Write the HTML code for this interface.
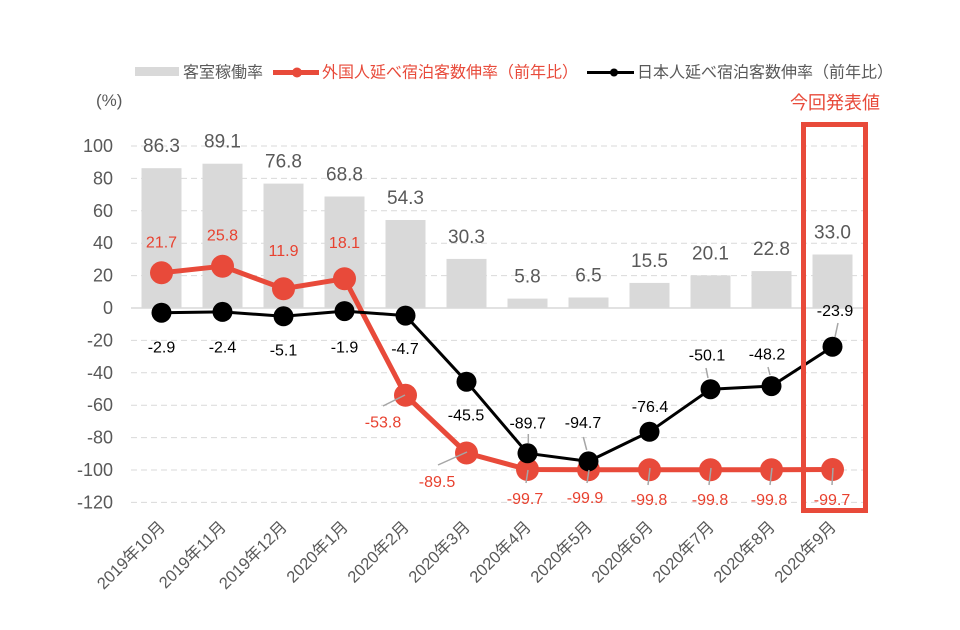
<!DOCTYPE html>
<html><head><meta charset="utf-8"><style>
html,body{margin:0;padding:0;background:#fff;}
svg{display:block;font-family:"Liberation Sans","Noto Sans CJK JP",sans-serif;}
</style></head><body>
<svg width="960" height="630" viewBox="0 0 960 630" xmlns="http://www.w3.org/2000/svg">
<rect width="960" height="630" fill="#fff"/>
<!-- legend -->
<rect x="135" y="67" width="44" height="9" fill="#d9d9d9"/>
<text x="183" y="77.5" font-size="16" fill="#595959">客室稼働率</text>
<line x1="273" y1="72.5" x2="319" y2="72.5" stroke="#e84a3a" stroke-width="5"/>
<circle cx="297" cy="72.5" r="5" fill="#e84a3a"/>
<text x="322" y="77.5" font-size="16" fill="#e84a3a">外国人延べ宿泊客数伸率（前年比）</text>
<line x1="587" y1="72.5" x2="634" y2="72.5" stroke="#000" stroke-width="3"/>
<circle cx="614" cy="72.5" r="4" fill="#000"/>
<text x="637" y="77.5" font-size="16" fill="#595959">日本人延べ宿泊客数伸率（前年比）</text>
<text x="96" y="106" font-size="17" fill="#595959">(%)</text>
<text x="835" y="109" font-size="18" fill="#e84a3a" text-anchor="middle">今回発表値</text>
<!-- gridlines -->
<g stroke="#d9d9d9" stroke-width="1" stroke-dasharray="6,4">
<line x1="131" y1="146" x2="863" y2="146"/>
<line x1="131" y1="178.4" x2="863" y2="178.4"/>
<line x1="131" y1="210.8" x2="863" y2="210.8"/>
<line x1="131" y1="243.2" x2="863" y2="243.2"/>
<line x1="131" y1="275.6" x2="863" y2="275.6"/>
<line x1="131" y1="340.4" x2="863" y2="340.4"/>
<line x1="131" y1="372.8" x2="863" y2="372.8"/>
<line x1="131" y1="405.2" x2="863" y2="405.2"/>
<line x1="131" y1="437.6" x2="863" y2="437.6"/>
<line x1="131" y1="470" x2="863" y2="470"/>
<line x1="131" y1="502.4" x2="863" y2="502.4"/>
</g>
<!-- y tick labels -->
<g font-size="18" fill="#595959" text-anchor="end">
<text x="113" y="152">100</text>
<text x="113" y="184.4">80</text>
<text x="113" y="216.8">60</text>
<text x="113" y="249.2">40</text>
<text x="113" y="281.6">20</text>
<text x="113" y="314">0</text>
<text x="113" y="346.4">-20</text>
<text x="113" y="378.8">-40</text>
<text x="113" y="411.2">-60</text>
<text x="113" y="443.6">-80</text>
<text x="113" y="476">-100</text>
<text x="113" y="508.4">-120</text>
</g>
<!-- bars -->
<g fill="#d9d9d9">
<rect x="141.5" y="168.2" width="40" height="139.8"/>
<rect x="202.5" y="163.7" width="40" height="144.3"/>
<rect x="263.5" y="183.6" width="40" height="124.4"/>
<rect x="324.5" y="196.5" width="40" height="111.5"/>
<rect x="385.5" y="220.0" width="40" height="88.0"/>
<rect x="446.5" y="258.9" width="40" height="49.1"/>
<rect x="507.5" y="298.6" width="40" height="9.4"/>
<rect x="568.5" y="297.5" width="40" height="10.5"/>
<rect x="629.5" y="282.9" width="40" height="25.1"/>
<rect x="690.5" y="275.4" width="40" height="32.6"/>
<rect x="751.5" y="271.1" width="40" height="36.9"/>
<rect x="812.5" y="254.5" width="40" height="53.5"/>
</g>
<line x1="131" y1="308" x2="863" y2="308" stroke="#d9d9d9" stroke-width="1.5"/>
<!-- bar labels -->
<g font-size="19" fill="#595959" text-anchor="middle">
<text x="161.5" y="152">86.3</text>
<text x="222.5" y="147.7">89.1</text>
<text x="283.5" y="167.6">76.8</text>
<text x="344.5" y="180.5">68.8</text>
<text x="405.5" y="204">54.3</text>
<text x="466.5" y="242.9">30.3</text>
<text x="527.5" y="282.6">5.8</text>
<text x="588.5" y="281.5">6.5</text>
<text x="649.5" y="266.9">15.5</text>
<text x="710.5" y="259.4">20.1</text>
<text x="771.5" y="255.1">22.8</text>
<text x="832.5" y="238.5">33.0</text>
</g>
<!-- red series -->
<polyline fill="none" stroke="#e84a3a" stroke-width="5" stroke-linejoin="round"
points="161.5,272.8 222.5,266.2 283.5,288.7 344.5,278.7 405.5,395.2 466.5,453.0 527.5,469.5 588.5,469.8 649.5,469.7 710.5,469.7 771.5,469.7 832.5,469.5"/>
<g fill="#e84a3a">
<circle cx="161.5" cy="272.8" r="11.5"/>
<circle cx="222.5" cy="266.2" r="11.5"/>
<circle cx="283.5" cy="288.7" r="11.5"/>
<circle cx="344.5" cy="278.7" r="11.5"/>
<circle cx="405.5" cy="395.2" r="11.5"/>
<circle cx="466.5" cy="453.0" r="11.5"/>
<circle cx="527.5" cy="469.5" r="11.5"/>
<circle cx="588.5" cy="469.8" r="11.5"/>
<circle cx="649.5" cy="469.7" r="11.5"/>
<circle cx="710.5" cy="469.7" r="11.5"/>
<circle cx="771.5" cy="469.7" r="11.5"/>
<circle cx="832.5" cy="469.5" r="11.5"/>
</g>
<!-- black series -->
<polyline fill="none" stroke="#000" stroke-width="3" stroke-linejoin="round"
points="161.5,312.7 222.5,311.9 283.5,316.3 344.5,311.1 405.5,315.6 466.5,381.7 527.5,453.3 588.5,461.4 649.5,431.8 710.5,389.2 771.5,386.1 832.5,346.7"/>
<g fill="#000">
<circle cx="161.5" cy="312.7" r="10"/>
<circle cx="222.5" cy="311.9" r="10"/>
<circle cx="283.5" cy="316.3" r="10"/>
<circle cx="344.5" cy="311.1" r="10"/>
<circle cx="405.5" cy="315.6" r="10"/>
<circle cx="466.5" cy="381.7" r="10"/>
<circle cx="527.5" cy="453.3" r="10"/>
<circle cx="588.5" cy="461.4" r="10"/>
<circle cx="649.5" cy="431.8" r="10"/>
<circle cx="710.5" cy="389.2" r="10"/>
<circle cx="771.5" cy="386.1" r="10"/>
<circle cx="832.5" cy="346.7" r="10"/>
</g>
<!-- leader lines -->
<g stroke="#a6a6a6" stroke-width="1.5">
<line x1="383" y1="406" x2="405" y2="395"/>
<line x1="438" y1="465" x2="467" y2="452"/>
<line x1="526" y1="483" x2="528" y2="470"/>
<line x1="587" y1="483" x2="589" y2="470"/>
<line x1="648" y1="485" x2="650" y2="468"/>
<line x1="709" y1="485" x2="711" y2="468"/>
<line x1="770" y1="485" x2="772" y2="468"/>
<line x1="832" y1="485" x2="833" y2="468"/>
<line x1="528.3" y1="434" x2="528.3" y2="443"/>
<line x1="583.3" y1="437" x2="586.7" y2="450"/>
<line x1="706" y1="368" x2="708" y2="378"/>
<line x1="768" y1="367" x2="770" y2="375"/>
<line x1="838" y1="323" x2="835" y2="337"/>
</g>
<!-- red labels -->
<g font-size="16" fill="#e8412f" text-anchor="middle">
<text x="161.5" y="247.5">21.7</text>
<text x="222.5" y="240.5">25.8</text>
<text x="283.5" y="256">11.9</text>
<text x="344.5" y="248">18.1</text>
<text x="383" y="427.5">-53.8</text>
<text x="437" y="487">-89.5</text>
<text x="525" y="504">-99.7</text>
<text x="585" y="503">-99.9</text>
<text x="649" y="505">-99.8</text>
<text x="710" y="505">-99.8</text>
<text x="769" y="505">-99.8</text>
<text x="832" y="505">-99.7</text>
</g>
<!-- black labels -->
<g font-size="16" fill="#000" text-anchor="middle">
<text x="161.5" y="352.5">-2.9</text>
<text x="222.5" y="352.5">-2.4</text>
<text x="283.5" y="355.5">-5.1</text>
<text x="344.5" y="352.5">-1.9</text>
<text x="405" y="354">-4.7</text>
<text x="466" y="420.5">-45.5</text>
<text x="527.7" y="428.5">-89.7</text>
<text x="583" y="428">-94.7</text>
<text x="650" y="412">-76.4</text>
<text x="707" y="360.5">-50.1</text>
<text x="767" y="359.5">-48.2</text>
<text x="835" y="316">-23.9</text>
</g>
<!-- highlight box -->
<rect x="803.5" y="124.5" width="62" height="386" fill="none" stroke="#e84a3a" stroke-width="5"/>
<!-- x labels -->
<g font-size="16.5" fill="#595959" text-anchor="end">
<text transform="translate(166,528) rotate(-45)">2019年10月</text>
<text transform="translate(227,528) rotate(-45)">2019年11月</text>
<text transform="translate(288,528) rotate(-45)">2019年12月</text>
<text transform="translate(349,528) rotate(-45)">2020年1月</text>
<text transform="translate(410,528) rotate(-45)">2020年2月</text>
<text transform="translate(471,528) rotate(-45)">2020年3月</text>
<text transform="translate(532,528) rotate(-45)">2020年4月</text>
<text transform="translate(593,528) rotate(-45)">2020年5月</text>
<text transform="translate(654,528) rotate(-45)">2020年6月</text>
<text transform="translate(715,528) rotate(-45)">2020年7月</text>
<text transform="translate(776,528) rotate(-45)">2020年8月</text>
<text transform="translate(837,528) rotate(-45)">2020年9月</text>
</g>
</svg>
</body></html>
